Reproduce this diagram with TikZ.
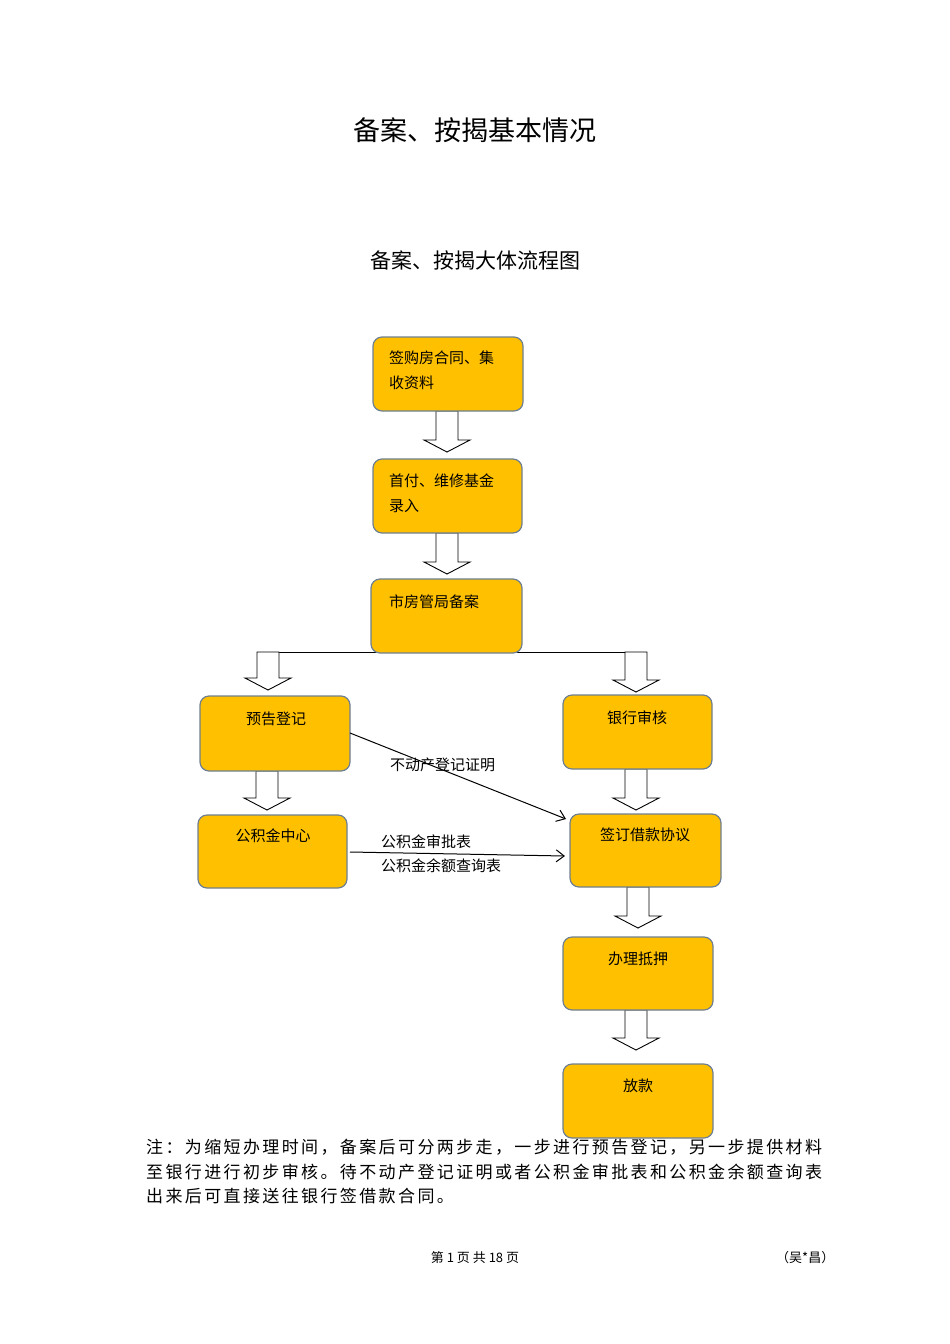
\documentclass[tikz,border=0pt]{standalone}
\usepackage{fontspec}
\usetikzlibrary{arrows.meta}
\setmainfont{Noto Sans CJK SC}
\newfontfamily\cjkls[LetterSpace=14]{Noto Sans CJK SC}
\definecolor{boxfill}{RGB}{255,192,0}
\definecolor{boxline}{RGB}{110,127,145}
\begin{document}
\begin{tikzpicture}[x=1pt,y=-1pt,
  box/.style={draw=boxline,line width=1.2pt,fill=boxfill,rounded corners=9pt},
  lbl/.style={font=\fontsize{15}{15}\selectfont,inner sep=0pt},
  hol/.style={draw=black,line width=0.9pt,fill=white},
  con/.style={draw=black,line width=1pt,-{Straight Barb[length=8pt,width=12pt]}}]
\useasboundingbox (0,0) rectangle (950,1344);
\newcommand\harrow[3]{\draw[hol] (#1-11,#2)--(#1+11,#2)--(#1+11,#3-12)--(#1+23,#3-12)--(#1,#3)--(#1-23,#3-12)--(#1-11,#3-12)--cycle;}
\node[inner sep=0pt,font=\fontsize{27}{27}\selectfont] (t1) at (475,130) {备案、按揭基本情况};
\node[inner sep=0pt,font=\fontsize{21}{21}\selectfont] (t2) at (475,260) {备案、按揭大体流程图};
\harrow{447}{411}{452}
\harrow{447}{533}{574}
\draw[line width=1pt] (257,652) -- (647,652);
\harrow{268}{652}{690}
\harrow{636}{652}{692}
\harrow{267}{771}{810}
\harrow{636}{769}{810}
\harrow{638}{887}{928}
\harrow{636}{1010}{1050}
\draw[box] (373,337) rectangle (523,411);
\draw[box] (373,459) rectangle (522,533);
\draw[box] (371,579) rectangle (522,653);
\draw[box] (200,696) rectangle (350,771);
\draw[box] (563,695) rectangle (712,769);
\draw[box] (198,815) rectangle (347,888);
\draw[box] (570,814) rectangle (721,887);
\draw[box] (563,937) rectangle (713,1010);
\draw[box] (563,1064) rectangle (713,1138);
\node[lbl,anchor=west] (n1a) at (389,358) {签购房合同、集};
\node[lbl,anchor=west] (n1b) at (389,383) {收资料};
\node[lbl,anchor=west] (n2a) at (389,481) {首付、维修基金};
\node[lbl,anchor=west] (n2b) at (389,506) {录入};
\node[lbl,anchor=west] (n3) at (389,602) {市房管局备案};
\node[lbl] (n4) at (276,719) {预告登记};
\node[lbl] (n5) at (637,718) {银行审核};
\node[lbl] (n6) at (273,836) {公积金中心};
\node[lbl] (n7) at (645,835) {签订借款协议};
\node[lbl] (n8) at (638,959) {办理抵押};
\node[lbl] (n9) at (638,1086) {放款};
\coordinate (p4) at (350,733); \coordinate (p7a) at (566,819);
\coordinate (p6) at (350,852); \coordinate (p7b) at (565,856);
\draw[con] (p4) -- (p7a);
\draw[con] (p6) -- (p7b);
\node[lbl,anchor=west] (l1) at (390,765) {不动产登记证明};
\node[lbl,anchor=west] (l2) at (381,842) {公积金审批表};
\node[lbl,anchor=west] (l3) at (381,866) {公积金余额查询表};
\begin{scope}[every node/.style={inner sep=0pt,anchor=west,font=\fontsize{17}{17}\cjkls}]
\node (m1) at (146,1147) {注：为缩短办理时间，备案后可分两步走，一步进行预告登记，另一步提供材料};
\node (m2) at (146,1172) {至银行进行初步审核。待不动产登记证明或者公积金审批表和公积金余额查询表};
\node (m3) at (146,1196) {出来后可直接送往银行签借款合同。};
\end{scope}
\node[inner sep=0pt,font=\fontsize{13}{13}\selectfont] (f1) at (475,1258) {第 1 页 共 18 页};
\node[inner sep=0pt,anchor=west,font=\fontsize{13}{13}\selectfont] (f2) at (776,1258) {（吴*昌）};
\end{tikzpicture}
\end{document}
